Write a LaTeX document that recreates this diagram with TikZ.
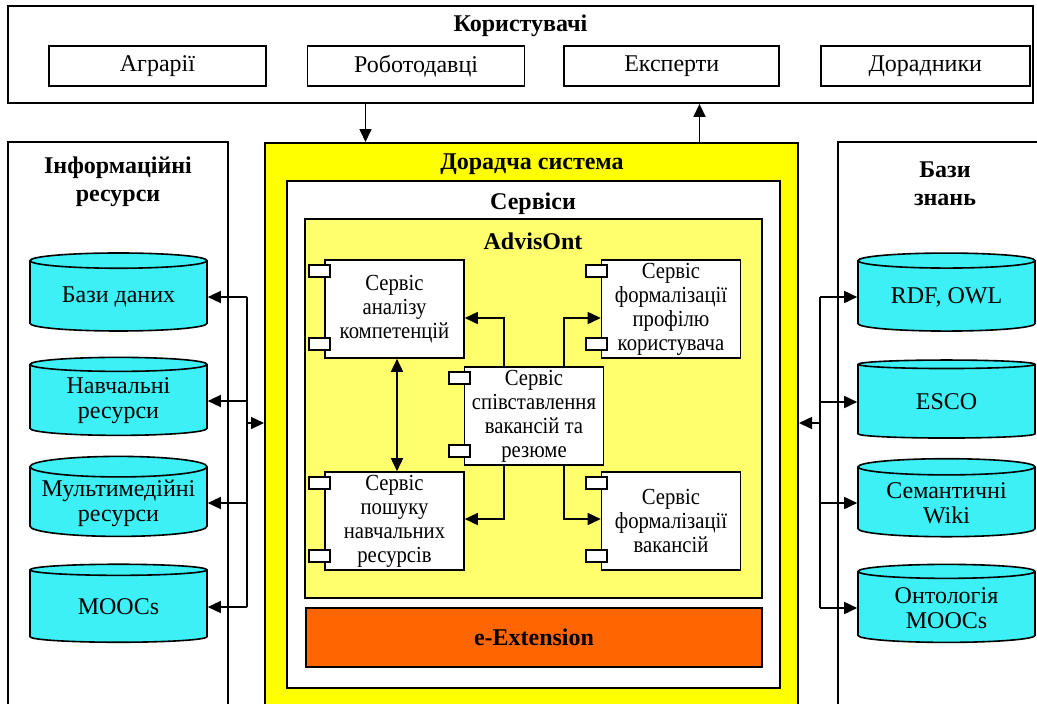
\documentclass[tikz,border=0pt]{standalone}
\usepackage{fontspec}
\setmainfont{Liberation Serif}
\newfontfamily\narrowserif[FakeStretch=0.9]{Liberation Serif}
\usetikzlibrary{arrows.meta,positioning,shapes.geometric}
\definecolor{sysyellow}{RGB}{255,255,0}
\definecolor{advyellow}{RGB}{255,255,110}
\definecolor{extorange}{RGB}{255,102,0}
\definecolor{dbcyan}{RGB}{60,240,245}
\tikzset{
	>={Triangle[length=6.5pt,width=6pt]}, % filled arrow heads
	container/.style={draw, line width=0.9pt, inner sep=0pt},
	title/.style={font=\bfseries\fontsize{12}{14}\selectfont, align=center},
	user/.style={draw, line width=0.8pt, fill=white, minimum width=108.5pt, minimum height=20pt, font=\fontsize{12}{14}\selectfont},
	store/.style={cylinder, shape border rotate=90, aspect=0.13, draw, line width=0.8pt, fill=dbcyan, minimum width=88.5pt, minimum height=39pt, align=center, inner sep=1pt, font=\fontsize{12}{12.5}\selectfont},
	comp/.style={draw, line width=0.8pt, fill=white, minimum width=69.5pt, minimum height=49pt, inner sep=0pt, align=center, font=\narrowserif\fontsize{11.5}{12}\selectfont},
	port/.style={draw, line width=0.8pt, fill=white, minimum width=10.5pt, minimum height=6pt, inner sep=0pt},
	link/.style={line width=0.8pt},
}
\begin{document}
\begin{tikzpicture}[x=0.5pt,y=-0.5pt]
	\useasboundingbox (0,0) rectangle (1037,703);
	\clip (0,0) rectangle (1037,703);

	% users
	\node[container, minimum width=512.5pt, minimum height=48.5pt] (users) at (520.5,54.5) {};
	\node[title] (userstitle) at (520.5,26) {Користувачі};
	\node[user] (agr) at (157.5,66) {Аграрії};
	\node[user, right=20pt of agr] (empl) {Роботодавці};
	\node[user, right=19pt of empl, minimum width=107.5pt] (exp) {Експерти};
	\node[user, right=20pt of exp, minimum width=104.5pt] (advis) {Дорадники};

	% side blocks
	\node[container, minimum width=110pt, minimum height=289pt] (info) at (118,431) {};
	\node[title] (infotitle) at (118,182) {Інформаційні\\ресурси};
	\node[container, minimum width=111pt, minimum height=289pt] (kb) at (949,431) {};
	\node[title] (kbtitle) at (945,184) {Бази\\знань};

	% advisory system
	\node[container, line width=1pt, fill=sysyellow, minimum width=266.5pt, minimum height=288.5pt] (sys) at (531.5,431.5) {};
	\node[title] (systitle) at (532,164) {Дорадча система};
	\node[container, fill=white, minimum width=246.5pt, minimum height=253.5pt] (serv) at (533.5,434.5) {};
	\node[title] (servtitle) at (533,204) {Сервіси};
	\node[container, fill=advyellow, minimum width=228.5pt, minimum height=189.5pt] (adv) at (533.5,408.5) {};
	\node[title] (advtitle) at (533,241) {AdvisOnt};
	\node[container, title, fill=extorange, minimum width=228pt, minimum height=29.5pt] (ext) at (534,637.5) {e-Extension};

	% services
	\node[comp] (an) at (394.5,309) {Сервіс\\аналізу\\компетенцій};
	\node[comp] (prof) at (671,309) {Сервіс\\формалізації\\профілю\\користувача};
	\node[comp] (match) at (534,416) {Сервіс\\співставлення\\вакансій та\\резюме};
	\node[comp] (search) at (394.5,521) {Сервіс\\пошуку\\навчальних\\ресурсів};
	\node[comp] (vac) at (671,521) {Сервіс\\формалізації\\вакансій};
	\foreach \c in {an,prof,match,search,vac}{
		\node[port] (\c-p1) at ([xshift=-2.25pt,yshift=-6pt]\c.north west) {};
		\node[port] (\c-p2) at ([xshift=-2.25pt,yshift=7.5pt]\c.south west) {};
	}

	% stores
	\node[store] (db) at (118.5,297) {Бази даних};
	\node[store] (edu) at (118.5,401) {Навчальні\\ресурси};
	\node[store] (mm) at (118.5,503) {Мультимедійні\\ресурси};
	\node[store] (moocs) at (118.5,607) {MOOCs};
	\node[store] (rdf) at (946.5,297) {RDF, OWL};
	\node[store] (esco) at (946.5,402) {ESCO};
	\node[store] (wiki) at (946.5,503) {Семантичні\\Wiki};
	\node[store] (onto) at (946.5,608) {Онтологія\\MOOCs};

	% connectors
	\draw[link, ->] ([xshift=-83pt]sys.north |- users.south) -- ([xshift=-83pt]sys.north);
	\draw[link, ->] ([xshift=84pt]sys.north) -- ([xshift=84pt]sys.north |- users.south);

	\draw[link, ->] ([xshift=-15pt]match.north) |- ([yshift=-4.5pt]an.east);
	\draw[link, ->] ([xshift=15pt]match.north) |- ([yshift=-4.5pt]prof.west);
	\draw[link, ->] ([xshift=-15pt]match.south) |- ([yshift=1pt]search.east);
	\draw[link, ->] ([xshift=15pt]match.south) |- ([yshift=1pt]vac.west);
	\draw[link, <->] ([xshift=1.25pt]an.south) -- ([xshift=1.25pt]search.north);

	\coordinate (lbus) at (247,423);
	\coordinate (rbus) at (820,423);
	\draw[link] (lbus |- db) -- (lbus |- moocs);
	\draw[link] (rbus |- rdf) -- (rbus |- onto);
	\draw[link, ->] (lbus) -- (lbus -| sys.west);
	\draw[link, ->] (rbus) -- (rbus -| sys.east);
	\foreach \n in {db,edu,mm,moocs}
		\draw[link, ->] (lbus |- \n) -- (\n);
	\foreach \n in {rdf,esco,wiki,onto}
		\draw[link, ->] (rbus |- \n) -- (\n);
\end{tikzpicture}
\end{document}
